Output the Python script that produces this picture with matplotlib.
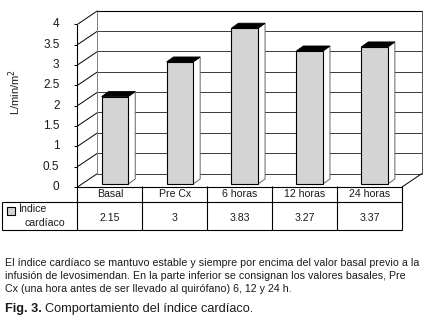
import numpy as np
import matplotlib
matplotlib.use("Agg")
import matplotlib.pyplot as plt
import matplotlib.transforms as mtransforms
from matplotlib.patches import Polygon, Rectangle

plt.rcParams["font.family"] = ["Liberation Sans", "DejaVu Sans"]

# data
categories = ["Basal", "Pre Cx", "6 horas", "12 horas", "24 horas"]
values = [2.15, 3, 3.83, 3.27, 3.37]
series_name = ["Índice", "cardíaco"]
y_ticks = [0, 0.5, 1, 1.5, 2, 2.5, 3, 3.5, 4]
y_label = "L/min/m$^2$"
caption_lines = [
    "El índice cardíaco se mantuvo estable y siempre por encima del valor basal previo a la",
    "infusión de levosimendan. En la parte inferior se consignan los valores basales, Pre",
    "Cx (una hora antes de ser llevado al quirófano) 6, 12 y 24 h.",
]
fig_label = "Fig. 3."
fig_title = "Comportamiento del índice cardíaco."

C_BAR = "#d4d4d4"; C_GRID = "#3a3a3a"; C_EDGE = "#808080"; C_TXT = "#1a1a1a"

W, H = 427, 330
fig = plt.figure(figsize=(W / 100, H / 100), dpi=100)
fig.patch.set_facecolor("white")

cv = fig.add_axes([0, 0, 1, 1], zorder=0)
cv.set_xlim(0, W); cv.set_ylim(0, H); cv.axis("off")

# front plane of the 3d chart
ax = fig.add_axes([77.5 / W, 143 / H, 324.5 / W, 162.7 / H], zorder=1)
n = len(categories)
ax.set_xlim(0, n); ax.set_ylim(0, max(y_ticks)); ax.axis("off")

BACK = (20, 13.5)   # wall depth (px)
BOFF = (5, 3)       # bar front offset (px)
DEP = (7, 5)        # bar depth (px)


def px(x, v, off=(0, 0)):
    X, Y = ax.transData.transform((x, v))
    return X + off[0], Y + off[1]


def seg(p, q, **kw):
    cv.plot([p[0], q[0]], [p[1], q[1]], solid_capstyle="butt", **kw)


ytop = max(y_ticks)
# back wall + gridlines
for t in y_ticks:
    seg(px(0, t, BACK), px(n, t, BACK), color=C_GRID, lw=0.7)
    seg(px(0, t), px(0, t, BACK), color="black", lw=0.7)
    seg((px(0, t)[0] - 3.5, px(0, t)[1]), px(0, t), color="black", lw=0.7)
seg(px(0, ytop, BACK), px(n, ytop, BACK), color="black", lw=0.8)
seg(px(0, 0, BACK), px(0, ytop, BACK), color=C_EDGE, lw=0.7)
seg(px(n, 0, BACK), px(n, ytop, BACK), color="#555555", lw=0.7)
seg(px(n, 0), px(n, 0, BACK), color="black", lw=0.7)

# tick labels and axis title
for t in y_ticks:
    cv.text(59.5, px(0, t)[1], f"{t:g}", ha="right", va="center",
            fontsize=8.5, color=C_TXT)
cv.text(15, H - 92, y_label, rotation=90, ha="center", va="center",
        fontsize=8, color=C_TXT)

# bars
bw = 0.41
xs = np.arange(n) + 0.5
off = mtransforms.ScaledTranslation(BOFF[0] / 100, BOFF[1] / 100, fig.dpi_scale_trans)
ax.bar(xs, values, width=bw, color=C_BAR, edgecolor="black", linewidth=0.8,
       transform=ax.transData + off, clip_on=False, zorder=2)
both = (BOFF[0] + DEP[0], BOFF[1] + DEP[1])
ident = mtransforms.IdentityTransform()
for x, v in zip(xs, values):
    x0, x1 = x - bw / 2, x + bw / 2
    side = [px(x1, 0, BOFF), px(x1, 0, both), px(x1, v, both), px(x1, v, BOFF)]
    top = [px(x0, v, BOFF), px(x1, v, BOFF), px(x1, v, both), px(x0, v, both)]
    ax.add_patch(Polygon(side, closed=True, fc="white", ec="#666666", lw=0.7,
                         transform=ident, clip_on=False, zorder=1))
    ax.add_patch(Polygon(top, closed=True, fc="black", ec="black", lw=0.6,
                         transform=ident, clip_on=False, zorder=3))

# data table
y_t = px(0, 0)[1]
y_m = H - 201.7
y_b = H - 230
x_l = 2
seg(px(0, 0), px(n, 0), color="black", lw=0.8)
seg((x_l, y_m), (px(n, 0)[0], y_m), color="black", lw=0.8)
seg((x_l, y_b), (px(n, 0)[0], y_b), color="black", lw=0.8)
seg((x_l, y_m), (x_l, y_b), color="black", lw=0.8)
seg(px(0, ytop), (px(0, 0)[0], y_b), color="black", lw=0.8)
for i in range(1, n + 1):
    seg((px(i, 0)[0], y_t + 1.5), (px(i, 0)[0], y_b), color="black", lw=0.8)
for x, c, v in zip(xs, categories, values):
    cx = px(x, 0)[0]
    cv.text(cx, H - 194.3, c, ha="center", va="center", fontsize=7.6, color=C_TXT)
    cv.text(cx, H - 218.3, f"{v:g}", ha="center", va="center", fontsize=7.6, color=C_TXT)
cv.add_patch(Rectangle((7, H - 215), 8, 8, fc=C_BAR, ec="black", lw=0.8))
cv.text(18.5, H - 209.5, series_name[0], ha="left", va="center", fontsize=7.6, color=C_TXT)
cv.text(25, H - 222.5, series_name[1], ha="left", va="center", fontsize=7.6, color=C_TXT)

# caption
for k, line in enumerate(caption_lines):
    cv.text(5.5, H - 263.3 - 13 * k, line, ha="left", va="center",
            fontsize=7.7, color=C_TXT)
lab = cv.text(5.5, H - 309.3, fig_label, ha="left", va="center",
              fontsize=9.2, fontweight="bold", color=C_TXT)
bb = lab.get_window_extent(renderer=fig.canvas.get_renderer())
cv.text(bb.x1 + 2.5, H - 309.3, fig_title, ha="left", va="center",
        fontsize=9.2, color=C_TXT)

fig.savefig("out.png", dpi=100, facecolor="white")
plt.close()
